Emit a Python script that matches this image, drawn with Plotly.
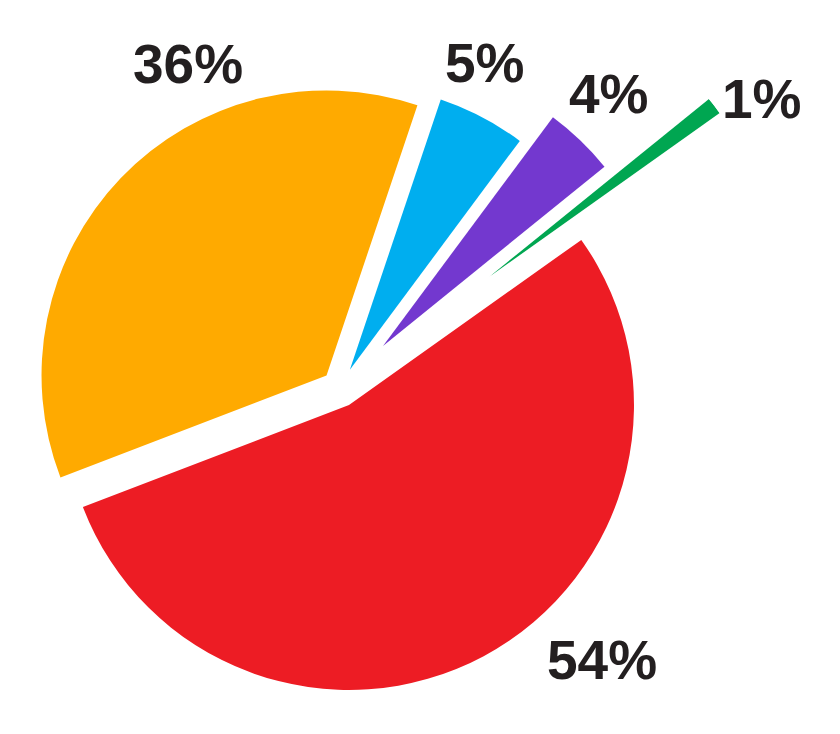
import math
import plotly.graph_objects as go

# ---- data ----
labels = ["Red", "Orange", "Blue", "Purple", "Green"]
values = [54, 36, 5, 4, 1]
colors = ["#ED1C24", "#FFAA00", "#00AEEF", "#7338CF", "#00A651"]

W, H = 840, 734
OFF = 8  # page body margin: figure is drawn 8px right/down in the page
TRANSPARENT = "rgba(0,0,0,0)"

R = 285
START = 54.6  # angle (deg, clockwise from 12 o'clock) where the first slice starts
total = sum(values)


def pie_domain(cx, cy, r, maxpull):
    cx, cy = cx - OFF, cy - OFF
    h = r * (1 + maxpull)
    return dict(x=[(cx - h) / W, (cx + h) / W],
                y=[1 - (cy + h) / H, 1 - (cy - h) / H])


groups = [
    # (indices shown, pulls, center px in page, radius px)
    ([0, 1, 2], [0.066, 0.066, 0.074, 0, 0], (340.1, 388.4), R),
    ([3], [0, 0, 0, 0, 0], (383, 346), R),
]

fig = go.Figure()
for shown, pulls, (cx, cy), r in groups:
    cols = [c if i in shown else TRANSPARENT for i, c in enumerate(colors)]
    fig.add_trace(go.Pie(
        labels=labels,
        values=values,
        sort=False,
        direction="clockwise",
        rotation=START,
        pull=pulls,
        marker=dict(colors=cols, line=dict(width=0)),
        textinfo="none",
        hoverinfo="skip",
        showlegend=False,
        domain=pie_domain(cx, cy, r, max(pulls)),
    ))

# the far-exploded smallest slice, drawn as a polar bar with the same angles
gi = 4
a0 = START + 360 * sum(values[:gi]) / total
a1 = a0 + 360 * values[gi] / total
mid_math = 90 - (a0 + a1) / 2  # counterclockwise from east
width_deg = a1 - a0
fig.add_trace(go.Barpolar(
    r=[1], theta=[mid_math], width=[width_deg],
    marker=dict(color=colors[gi], line=dict(width=0)),
    hoverinfo="skip", showlegend=False, subplot="polar",
))
sec = [30, 45]
bx0, bx1 = 0.0, math.cos(math.radians(sec[0]))
by0, by1 = 0.0, math.sin(math.radians(sec[1]))
gcx, gcy, gr = 489 - OFF, 277 - OFF, 283
polar_dom = dict(
    x=[(gcx + gr * bx0) / W, (gcx + gr * bx1) / W],
    y=[1 - (gcy - gr * by0) / H, 1 - (gcy - gr * by1) / H],
)

# percentage labels
label_pos = [(601.5, 662), (187.5, 66), (485, 65), (609, 96), (761.5, 101)]
for v, (x, y) in zip(values, label_pos):
    fig.add_annotation(
        x=(x - OFF) / W, y=1 - (y - OFF - 2) / H, xref="paper", yref="paper",
        text=f"<b>{round(100 * v / total)}%</b>",
        showarrow=False, xanchor="center", yanchor="middle",
        font=dict(family="Liberation Sans, Arial, sans-serif", size=55, color="#231F20"),
    )

fig.update_layout(
    width=W, height=H,
    margin=dict(l=0, r=0, t=0, b=0),
    paper_bgcolor="white", plot_bgcolor="white",
    showlegend=False,
    polar=dict(
        domain=polar_dom,
        sector=sec,
        hole=0,
        bgcolor=TRANSPARENT,
        radialaxis=dict(range=[0, 1], visible=False, showgrid=False, showline=False,
                        showticklabels=False, ticks=""),
        angularaxis=dict(visible=False, showgrid=False, showline=False,
                         showticklabels=False, ticks="", rotation=0,
                         direction="counterclockwise"),
    ),
)

fig.write_html("out.html")
